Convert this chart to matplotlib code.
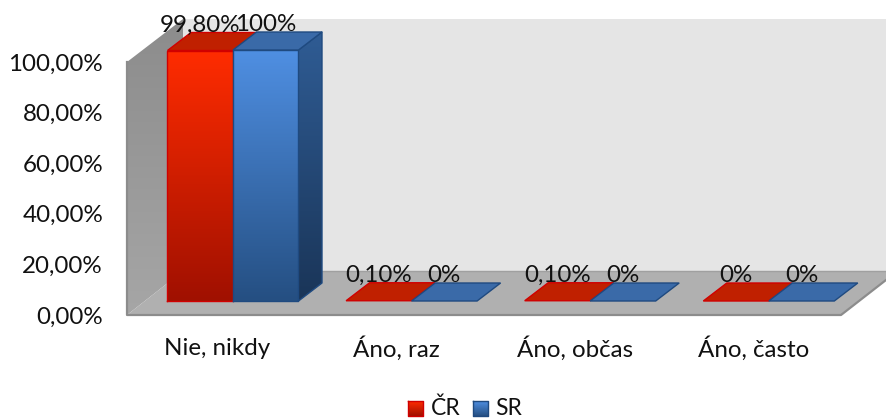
import numpy as np
import matplotlib; matplotlib.use("Agg")
import matplotlib.pyplot as plt
from matplotlib.colors import LinearSegmentedColormap
from matplotlib.patches import Polygon

categories = ["Nie, nikdy", "Áno, raz", "Áno, občas", "Áno, často"]
series = ["ČR", "SR"]
cr_values = [99.8, 0.1, 0.1, 0]
sr_values = [100, 0, 0, 0]
cr_labels = ["99,80%", "0,10%", "0,10%", "0%"]
sr_labels = ["100%", "0%", "0%", "0%"]
tick_values = [0, 20, 40, 60, 80, 100]
tick_labels = ["0,00%", "20,00%", "40,00%", "60,00%", "80,00%", "100,00%"]

plt.rcParams["font.family"] = ["Lato", "DejaVu Sans"]
FS = 17.4
TXT = "#111111"
# pixel geometry of the fake 3D box
WALL_X, WALL_Y0, WALL_K = 127, 315, 2.53
DX, DY = 56, 44
BAR_X0, BAR_STEP, BAR_W, BAR_Y0, BAR_K = 167.5, 178.6, 65.5, 301, 2.51
BDX, BDY = 23.5, 18

fig = plt.figure(figsize=(8.86, 4.19), dpi=100, facecolor="white")
ax = fig.add_axes([0, 0, 1, 1])
ax.set_xlim(0, 886); ax.set_ylim(419, 0); ax.axis("off")


def grad(pts, top, bottom, z):
    # vertical gradient clipped to a polygon
    poly = Polygon(pts, closed=True, facecolor="none", edgecolor="none", zorder=z)
    ax.add_patch(poly)
    xs = [p[0] for p in pts]; ys = [p[1] for p in pts]
    cm = LinearSegmentedColormap.from_list("g", [top, bottom])
    im = ax.imshow(np.linspace(0, 1, 128).reshape(-1, 1), cmap=cm, aspect="auto",
                   extent=(min(xs), max(xs), max(ys), min(ys)), zorder=z)
    im.set_clip_path(poly)
    ax.set_xlim(0, 886); ax.set_ylim(419, 0)


def poly(pts, fc, ec="none", lw=1.0, z=2):
    ax.add_patch(Polygon(pts, closed=True, facecolor=fc, edgecolor=ec, linewidth=lw, zorder=z))


def bar(x, v, front, side, top, edge, z):
    h = v * BAR_K
    y1 = BAR_Y0 - h
    w = BAR_W
    if v >= 1:
        grad([(x + w, BAR_Y0), (x + w + BDX, BAR_Y0 - BDY), (x + w + BDX, y1 - BDY), (x + w, y1)],
             side[0], side[1], z)
        grad([(x, BAR_Y0), (x + w, BAR_Y0), (x + w, y1), (x, y1)], front[0], front[1], z + 0.1)
        ax.plot([x, x, x + w, x + w, x], [BAR_Y0, y1, y1, BAR_Y0, BAR_Y0], color=edge, lw=1.0, zorder=z + 0.2)
        ax.plot([x + w, x + w + BDX, x + w + BDX, x + w], [y1, y1 - BDY, BAR_Y0 - BDY, BAR_Y0],
                color=edge, lw=1.0, zorder=z + 0.2)
    poly([(x, y1), (x + w, y1), (x + w + BDX, y1 - BDY), (x + BDX, y1 - BDY)], top, edge, 1.0, z + 0.3)


# walls and floor
ymax = WALL_Y0 - 100 * WALL_K
poly([(WALL_X + DX, WALL_Y0 - DY), (WALL_X + DX, ymax - DY + 1), (886, ymax - DY + 1), (886, WALL_Y0 - DY)],
     "#E5E5E5", z=1)
grad([(WALL_X, WALL_Y0), (WALL_X, ymax), (WALL_X + DX, ymax - DY + 1), (WALL_X + DX, WALL_Y0 - DY)],
     "#8C8C8C", "#A6A6A6", 1.1)
poly([(WALL_X, WALL_Y0), (841, WALL_Y0), (886, WALL_Y0 - 35), (886, WALL_Y0 - DY), (WALL_X + DX, WALL_Y0 - DY)],
     "#B0B0B0", z=1.2)
ax.plot([WALL_X + DX, 886], [WALL_Y0 - DY, WALL_Y0 - DY], color="#A0A0A0", lw=1.0, zorder=1.3)
ax.plot([WALL_X, WALL_X, 841, 886], [ymax, WALL_Y0, WALL_Y0, WALL_Y0 - 35], color="#8C8C8C", lw=1.6, zorder=1.4)

# bars, labels
for i, cat in enumerate(categories):
    x = BAR_X0 + i * BAR_STEP
    bar(x, cr_values[i], ("#FF2C00", "#A01000"), ("#A01000", "#700800"), "#C02000", "#D00000", 3)
    bar(x + BAR_W, sr_values[i], ("#4F8FE2", "#254F82"), ("#2F5C94", "#1A3558"), "#3A6AA8", "#1F4A80", 4)
    for off, v, lab in ((0, cr_values[i], cr_labels[i]), (BAR_W, sr_values[i], sr_labels[i])):
        ytxt = BAR_Y0 - v * BAR_K - 25.5
        ax.text(x + BAR_W / 2 + off, ytxt, lab, ha="center", va="center", fontsize=FS, color=TXT, zorder=6)
    ax.text(x + 50, 348.5, cat, ha="center", va="center", fontsize=FS, color=TXT)

for v, lab in zip(tick_values, tick_labels):
    ax.text(103, WALL_Y0 - v * WALL_K + 2, lab, ha="right", va="center", fontsize=FS, color=TXT)

# legend
for sx, name, c0, c1, e in ((408.5, series[0], "#FF2C00", "#A01000", "#D00000"),
                            (473.5, series[1], "#4F8FE2", "#254F82", "#1F4A80")):
    grad([(sx, 400.5), (sx + 15, 400.5), (sx + 15, 415.5), (sx, 415.5)], c0, c1, 3)
    ax.plot([sx, sx + 15, sx + 15, sx, sx], [400.5, 400.5, 415.5, 415.5, 400.5], color=e, lw=1.0, zorder=3.2)
    ax.text(sx + 22, 408.5, name, ha="left", va="center", fontsize=16.5, color=TXT)

fig.savefig("out.png", dpi=100, facecolor="white")
